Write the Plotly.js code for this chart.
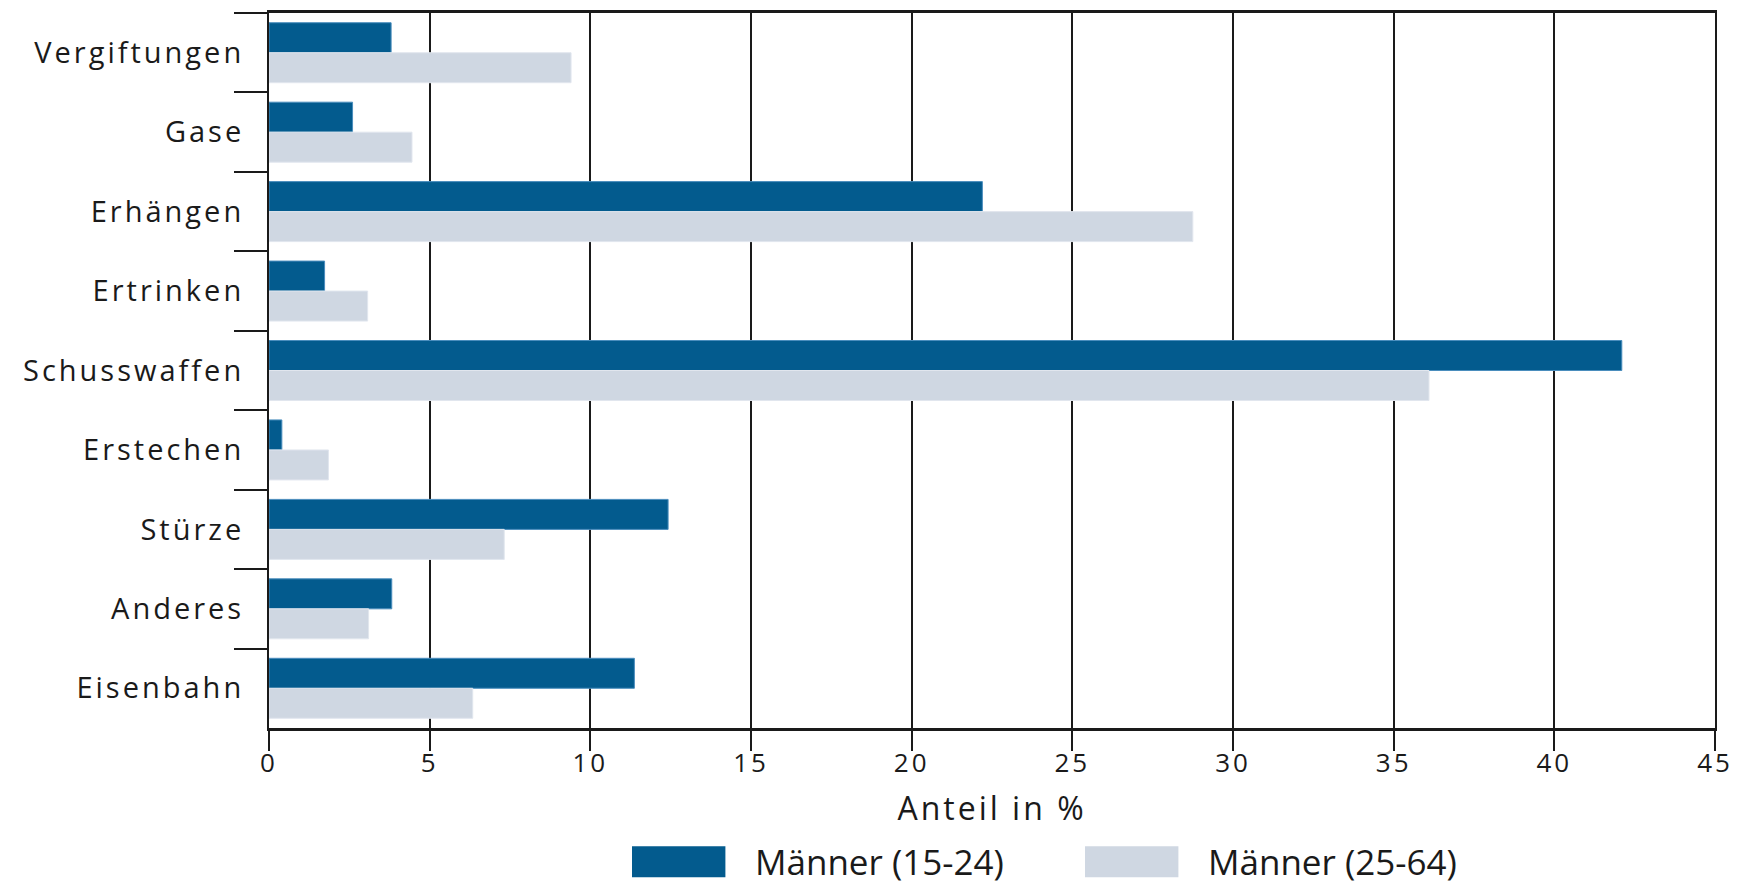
<!DOCTYPE html>
<html>
<head>
<meta charset="utf-8">
<script src="https://cdn.plot.ly/plotly-3.0.1.min.js"></script>
<style>
  html, body { margin: 0; padding: 0; background: #fff; }
  #chart { width: 1738px; height: 885px; }
  #chart .xtick text, #chart .ytick text, #chart .xtitle { letter-spacing: 3px; }
  #chart .legendtext { letter-spacing: 0; }
  #chart .legendpoints path {
    stroke: none !important;
    transform-box: fill-box; transform-origin: center;
    transform: translate(46px, 0) scale(7.9, 2.6);
  }
</style>
</head>
<body>
<div id="chart"></div>
<script>
const categories = ["Vergiftungen", "Gase", "Erhängen", "Ertrinken", "Schusswaffen", "Erstechen", "Stürze", "Anderes", "Eisenbahn"];
const young = [3.8, 2.6, 22.2, 1.73, 42.1, 0.4, 12.42, 3.82, 11.37];
const older = [9.4, 4.45, 28.75, 3.07, 36.1, 1.85, 7.32, 3.1, 6.34];
const seriesNames = ["Männer (15-24)", "Männer (25-64)"];
const xTickVals = [0, 5, 10, 15, 20, 25, 30, 35, 40, 45];

const FONT = "Open Sans, DejaVu Sans, sans-serif";
const INK = "#1a1a1a";

const traces = [
  {
    type: "bar", orientation: "h", name: seriesNames[0], legend: "legend",
    y: categories, x: young,
    marker: { color: "#035B8E", line: { color: "#4a8dbd", width: 1 } }
  },
  {
    type: "bar", orientation: "h", name: seriesNames[1], legend: "legend2",
    y: categories, x: older,
    marker: { color: "#CFD7E2", line: { color: "#e1e6ee", width: 1 } }
  }
];

const legendBase = {
  orientation: "h", xref: "container", yref: "container",
  yanchor: "middle", y: 0.026, xanchor: "left",
  font: { family: FONT, size: 35, color: INK },
  bgcolor: "rgba(0,0,0,0)", borderwidth: 0, itemwidth: 113, itemclick: false
};

const layout = {
  width: 1738, height: 885,
  margin: { l: 269, r: 23, t: 13, b: 157, autoexpand: false },
  paper_bgcolor: "#fff", plot_bgcolor: "#fff",
  barmode: "group", bargap: 0.245, bargroupgap: 0,
  font: { family: FONT, size: 26, color: INK },
  xaxis: {
    range: [0, 45], tickvals: xTickVals, ticktext: xTickVals.map(String),
    automargin: false,
    showgrid: true, gridcolor: INK, gridwidth: 2,
    showline: true, linecolor: INK, linewidth: 3, mirror: true,
    ticks: "outside", ticklen: 20, tickwidth: 2, tickcolor: INK,
    ticklabelstandoff: -10,
    zeroline: false,
    tickfont: { family: FONT, size: 26, color: INK },
    title: { text: "Anteil in %", font: { family: FONT, size: 32, color: INK }, standoff: 19 },
    fixedrange: true
  },
  yaxis: {
    type: "category", autorange: "reversed", automargin: false,
    tickson: "boundaries", ticks: "outside", ticklen: 33, tickwidth: 2, tickcolor: INK,
    ticklabelstandoff: 17,
    showgrid: false, zeroline: false,
    showline: true, linecolor: INK, linewidth: 2, mirror: true,
    tickfont: { family: FONT, size: 29, color: INK },
    fixedrange: true
  },
  showlegend: true,
  legend: Object.assign({}, legendBase, { x: 632 / 1738 }),
  legend2: Object.assign({}, legendBase, { x: 1085 / 1738 })
};

Plotly.newPlot("chart", traces, layout, { displayModeBar: false, staticPlot: true });
</script>
</body>
</html>
